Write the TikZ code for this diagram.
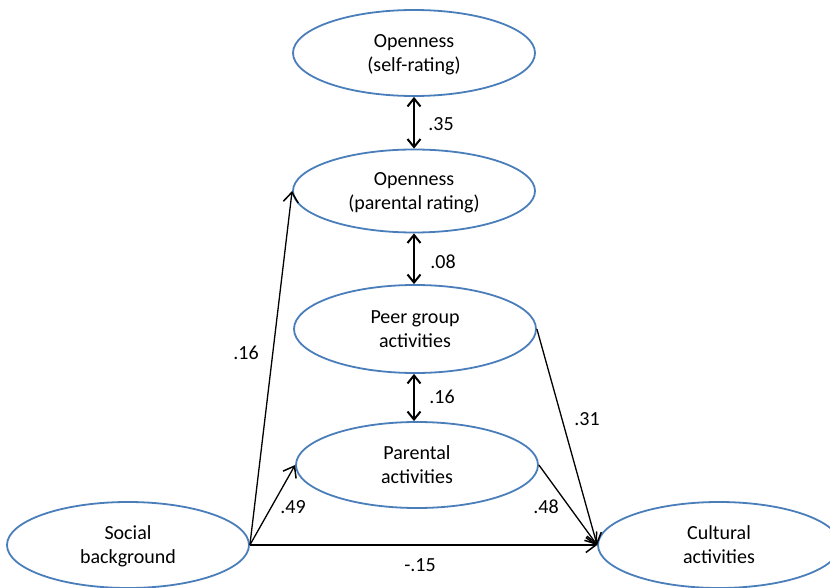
\documentclass[tikz,border=0pt]{standalone}
\usepackage{fontspec}
\setmainfont{Carlito}
\usetikzlibrary{shapes.geometric,arrows.meta}
\definecolor{ellblue}{HTML}{4A7EBB}
\tikzset{
  latent/.style={ellipse, draw=ellblue, line width=1.8pt, minimum width=242pt, minimum height=86pt, inner sep=0pt, align=center, text depth=0pt, font=\fontsize{20}{24}\selectfont},
  path1/.style={line width=1.3pt, -{Straight Barb[length=10pt,width=15pt,line width=1.5pt]}},
  cov/.style={line width=2pt, {Straight Barb[length=8pt,width=13pt,line width=2pt]}-{Straight Barb[length=8pt,width=13pt,line width=2pt]}},
  coef/.style={font=\fontsize{20}{24}\selectfont, inner sep=0pt}
}
\begin{document}
\begin{tikzpicture}[x=1pt,y=-1pt]
\useasboundingbox (0,0) rectangle (830,588);
\fill[white] (0,0) rectangle (830,588);
\node[latent] (selfr) at (414,53) {Openness\\(self-rating)};
\node[latent, minimum height=83pt] (parr) at (414,191) {Openness\\(parental rating)};
\node[latent, minimum height=88pt] (peer) at (415,329) {Peer group\\activities};
\node[latent] (pact) at (417,465) {Parental\\activities};
\node[latent] (social) at (128,545) {Social\\background};
\node[latent] (cult) at (719,545) {Cultural\\activities};

\draw[cov] (selfr.south) -- (parr.north);
\draw[cov] (parr.south) -- (peer.north -| parr.south);
\draw[cov] (peer.south -| parr.south) -- (pact.north -| parr.south);

\draw[path1] (social.east) -- (parr.west);
\draw[path1] (social.east) -- (pact.west);
\draw[path1] (social.east) -- (cult.west);
\draw[path1] (peer.east) -- (cult.west);
\draw[path1] (pact.east) -- (cult.west);

\node[coef] (c35) at (441,124) {.35};
\node[coef] (c08) at (443,262) {.08};
\node[coef] (c16b) at (442,397) {.16};
\node[coef] (c16a) at (246,353) {.16};
\node[coef] (c49) at (293,507) {.49};
\node[coef] (c15) at (420,565) {-.15};
\node[coef] (c31) at (587,419) {.31};
\node[coef] (c48) at (546,507) {.48};
\end{tikzpicture}
\end{document}
